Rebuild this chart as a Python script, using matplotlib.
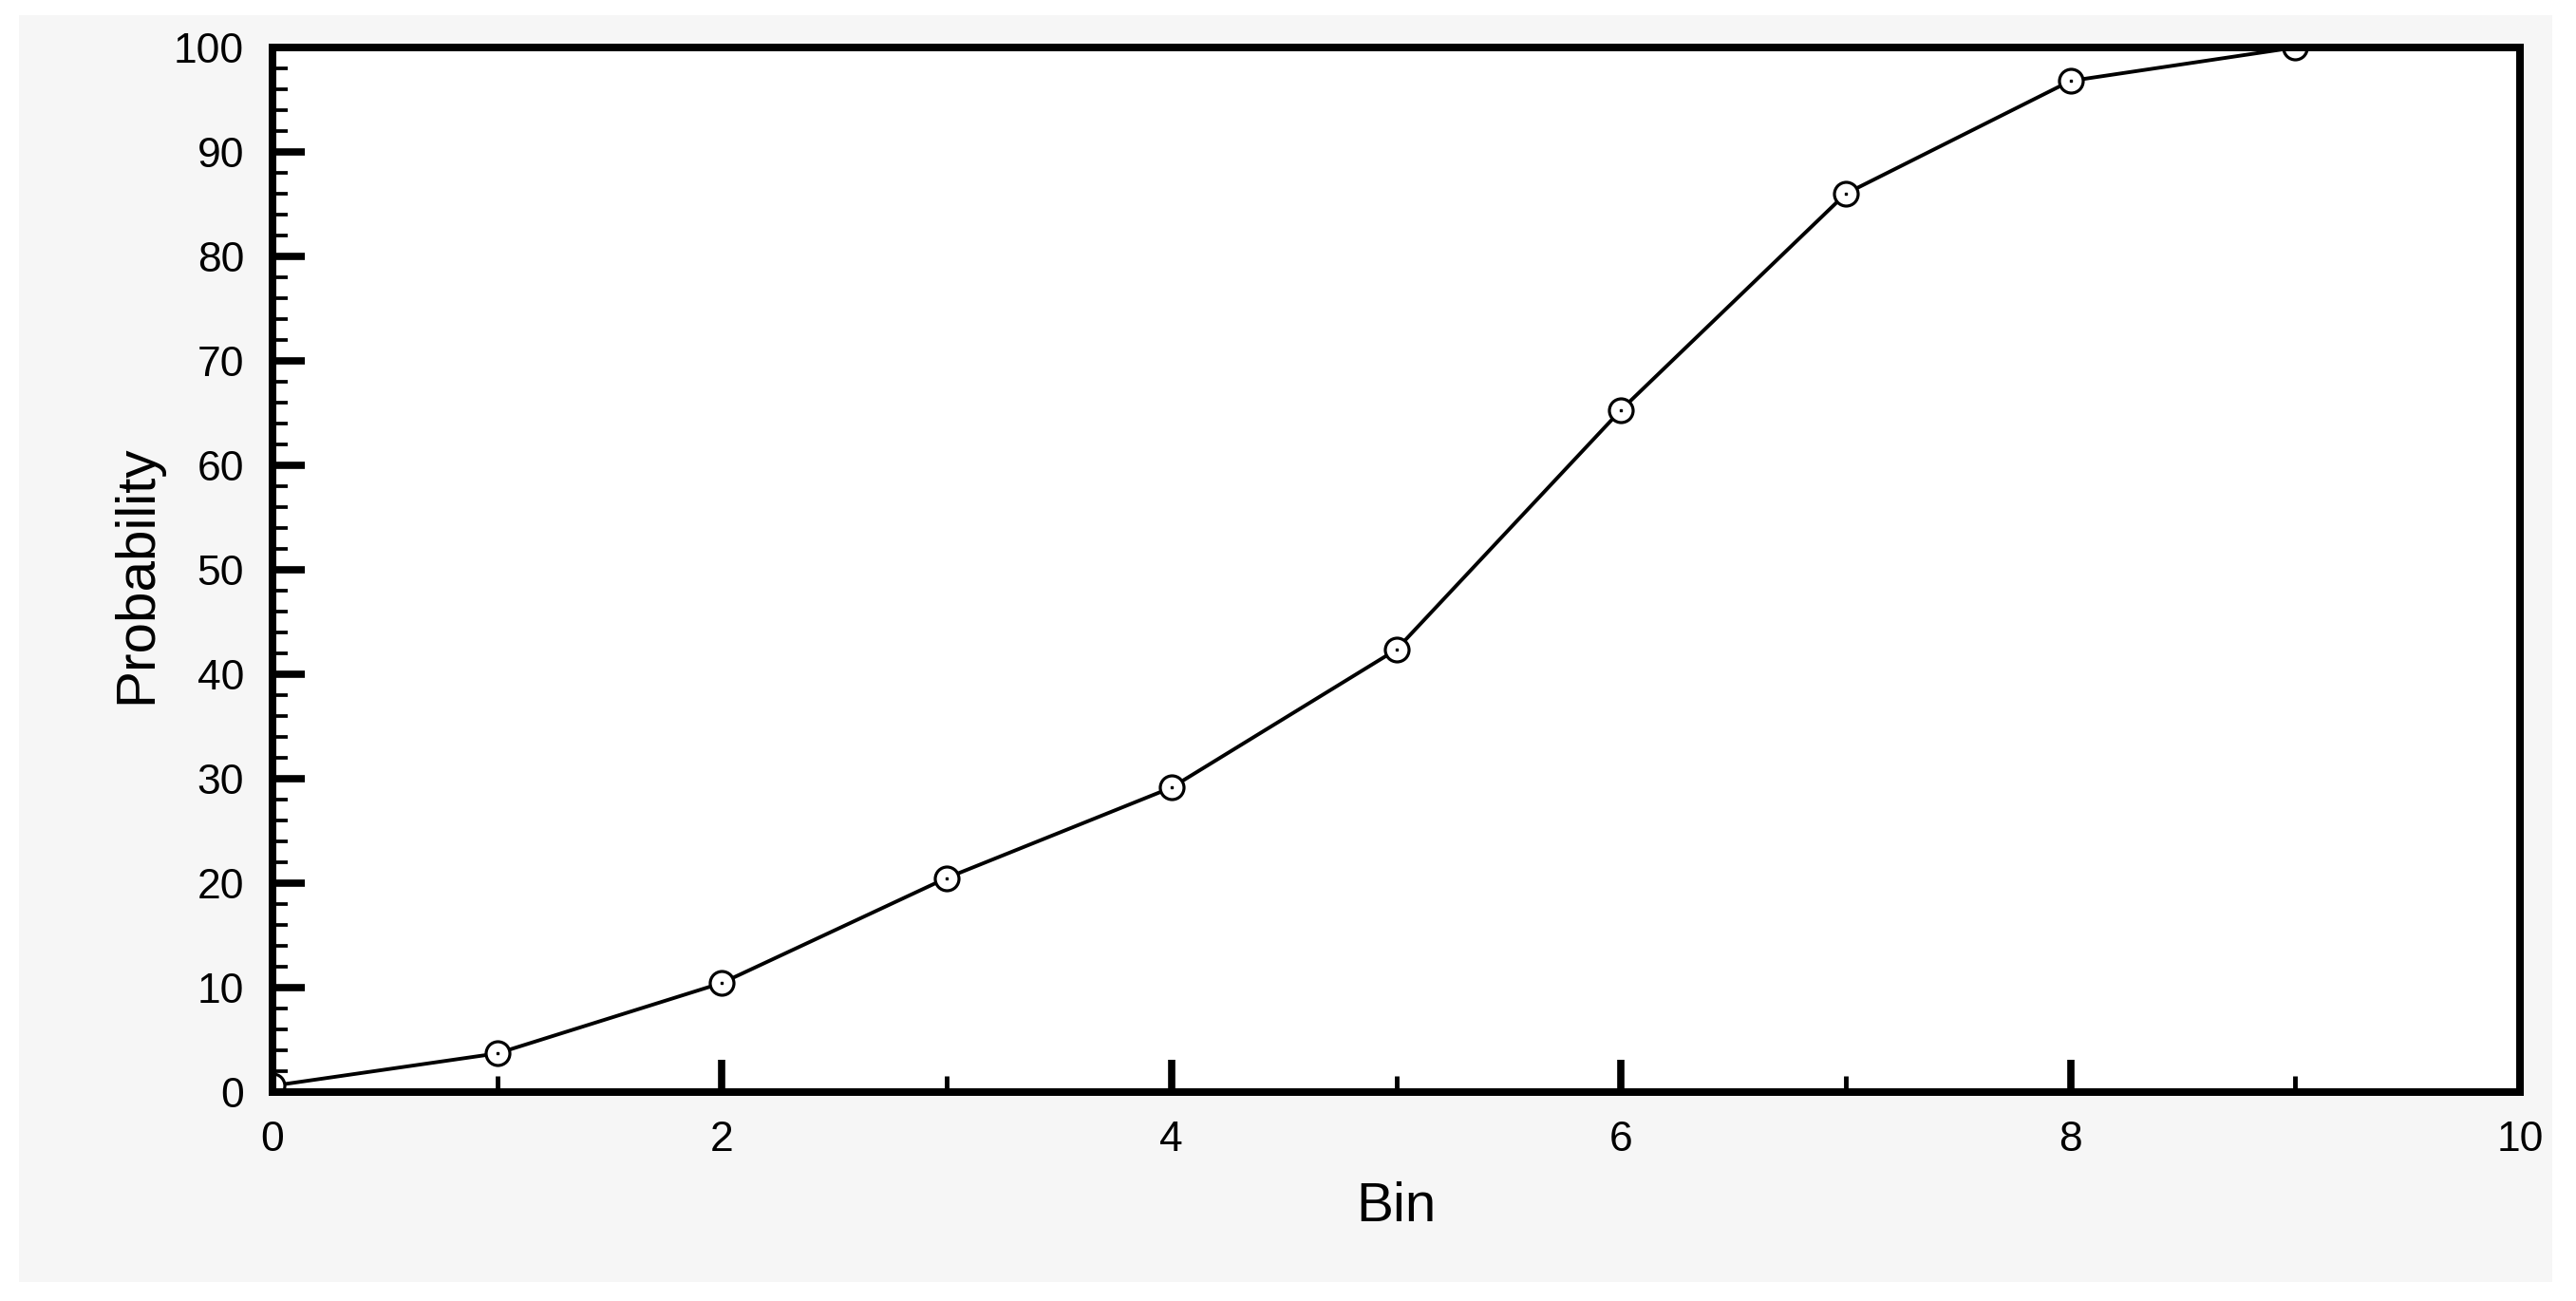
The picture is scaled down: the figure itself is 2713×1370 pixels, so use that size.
import matplotlib
matplotlib.use("Agg")
import matplotlib.pyplot as plt
from matplotlib.patches import Rectangle
from matplotlib.ticker import MultipleLocator

# Data
bins = [0, 1, 2, 3, 4, 5, 6, 7, 8, 9]
probability = [0.6, 3.7, 10.45, 20.5, 29.15, 42.35, 65.3, 86.0, 96.8, 100.0]
x_label = "Bin"
y_label = "Probability"

plt.rcParams['font.family'] = ['Liberation Sans', 'DejaVu Sans']

W, H, DPI = 2713, 1370, 100
fig = plt.figure(figsize=(W / DPI, H / DPI), dpi=DPI, facecolor='white')

# light gray panel behind the plot
fig.patches.append(Rectangle((20 / W, 1 - 1350 / H), 2668 / W, 1334 / H,
                             transform=fig.transFigure, facecolor='#f6f6f6',
                             edgecolor='none', zorder=-10))

left, right = 287 / W, 2654 / W
bottom, top = 1 - 1150 / H, 1 - 50 / H
ax = fig.add_axes([left, bottom, right - left, top - bottom])
ax.set_zorder(1)
ax.set_facecolor('white')

ax.plot(bins, probability, color='black', linewidth=2.8, marker='o',
        markersize=18, markerfacecolor='white', markeredgecolor='black',
        markeredgewidth=2.3, zorder=2)
ax.plot(bins, probability, linestyle='none', marker='s', markersize=1.6,
        color='black', zorder=2.1)

ax.set_xlim(0, 10)
ax.set_ylim(0, 100)
ax.xaxis.set_major_locator(MultipleLocator(2))
ax.xaxis.set_minor_locator(MultipleLocator(1))
ax.yaxis.set_major_locator(MultipleLocator(10))
ax.yaxis.set_minor_locator(MultipleLocator(2))

for s in ax.spines.values():
    s.set_linewidth(5.76)
    s.set_color('black')

ax.tick_params(axis='both', which='major', direction='in', length=24.5,
               width=5.5, labelsize=32, pad=21.5, color='black',
               top=False, right=False)
ax.tick_params(axis='x', which='minor', direction='in', length=12, width=3.5,
               top=False)
ax.tick_params(axis='y', which='minor', direction='in', length=11.5, width=2.7,
               right=False)

ax.set_xlabel(x_label, fontsize=42)
ax.set_ylabel(y_label, fontsize=42)
ax.xaxis.set_label_coords(0.5, -0.0855)
ax.yaxis.set_label_coords(-0.049, 0.4955)

fig.savefig("out.png", dpi=DPI, facecolor='white')
